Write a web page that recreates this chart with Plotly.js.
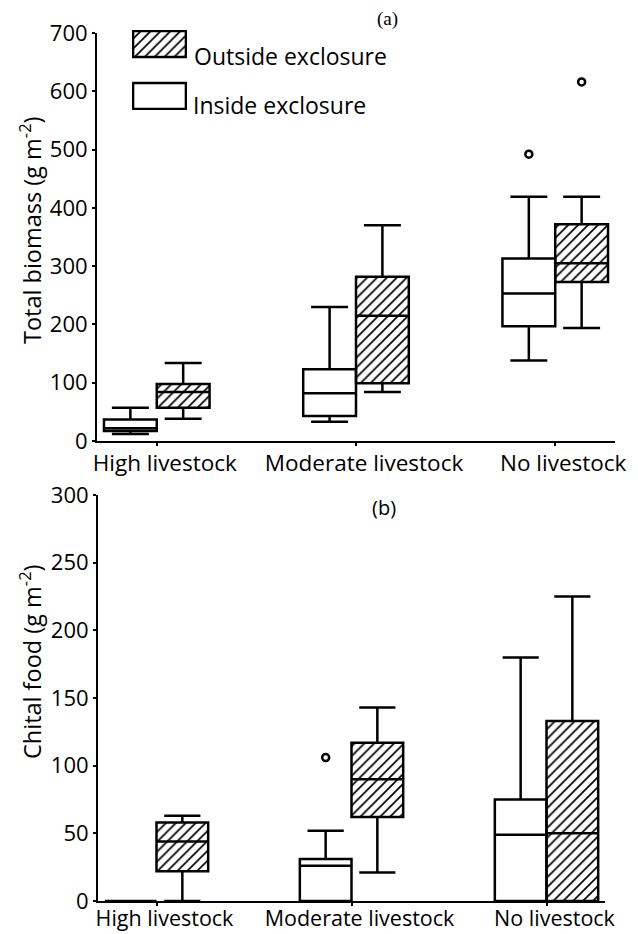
<!DOCTYPE html>
<html>
<head>
<meta charset="utf-8">
<script src="https://cdn.plot.ly/plotly-3.0.1.min.js"></script>
<style>html,body{margin:0;padding:0;background:#fff}#chart{width:638px;height:934px}</style>
</head>
<body>
<div id="chart"></div>
<script>
// ---- data ----
const categories = ['High livestock', 'Moderate livestock', 'No livestock'];
const catPos = [1, 2, 3];

// (a) Total biomass (g m-2)
const aInLower = [12, 33, 138];
const aInQ1 = [17, 43, 197];
const aInMedian = [22, 82, 253];
const aInQ3 = [37, 123, 313];
const aInUpper = [57, 230, 419];
const aOutLower = [38, 84, 194];
const aOutQ1 = [57, 99, 273];
const aOutMedian = [84, 215, 305];
const aOutQ3 = [98, 282, 372];
const aOutUpper = [134, 370, 419];
const aInOutlierCat = [3];
const aInOutlierVal = [492];
const aOutOutlierCat = [3];
const aOutOutlierVal = [616];

// (b) Chital food (g m-2)
const bInLower = [0, 0, 0];
const bInQ1 = [0, 0, 0];
const bInMedian = [0, 26, 49];
const bInQ3 = [0, 31, 75];
const bInUpper = [0, 52, 180];
const bOutLower = [0, 21, 0];
const bOutQ1 = [22, 62, 0];
const bOutMedian = [44, 90, 50];
const bOutQ3 = [58, 117, 133];
const bOutUpper = [63, 143, 225];
const bInOutlierCat = [2];
const bInOutlierVal = [106];

const yTicksA = [0, 100, 200, 300, 400, 500, 600, 700];
const yTicksB = [0, 50, 100, 150, 200, 250, 300];

// ---- styling ----
const W = 638, H = 934;
const FONT = 'Open Sans, sans-serif';
const BW = 0.265, OFF = 0.1325;
const inX = catPos.map(p => p - OFF);
const outX = catPos.map(p => p + OFF);
const pattern = {shape: '/', fgcolor: '#000', bgcolor: '#fff', size: 7, solidity: 0.24, fillmode: 'replace'};

function boxTrace(x, lo, q1, med, q3, up, xa, ya) {
  return {type: 'box', x: x, lowerfence: lo, q1: q1, median: med, q3: q3, upperfence: up,
    width: BW, whiskerwidth: 0.7, boxpoints: false, fillcolor: 'rgba(0,0,0,0)',
    line: {color: '#000', width: 2.5}, xaxis: xa, yaxis: ya, hoverinfo: 'skip', showlegend: false};
}
function hatchTrace(x, q1, q3, xa, ya) {
  return {type: 'bar', x: x, base: q1, y: q3.map((v, i) => v - q1[i]), width: BW,
    marker: {color: '#fff', pattern: pattern, line: {width: 0}},
    xaxis: xa, yaxis: ya, hoverinfo: 'skip', showlegend: false};
}
function outlierTrace(cats, vals, off, xa, ya) {
  return {type: 'scatter', mode: 'markers', x: cats.map(c => c + off), y: vals,
    marker: {symbol: 'circle-open', size: 7, color: '#000', line: {width: 2.5, color: '#000'}},
    xaxis: xa, yaxis: ya, hoverinfo: 'skip', showlegend: false, cliponaxis: false};
}

const data = [
  hatchTrace(outX, aOutQ1, aOutQ3, 'x', 'y'),
  boxTrace(inX, aInLower, aInQ1, aInMedian, aInQ3, aInUpper, 'x', 'y'),
  boxTrace(outX, aOutLower, aOutQ1, aOutMedian, aOutQ3, aOutUpper, 'x', 'y'),
  outlierTrace(aInOutlierCat, aInOutlierVal, -OFF, 'x', 'y'),
  outlierTrace(aOutOutlierCat, aOutOutlierVal, OFF, 'x', 'y'),
  hatchTrace(outX, bOutQ1, bOutQ3, 'x2', 'y2'),
  boxTrace(inX, bInLower, bInQ1, bInMedian, bInQ3, bInUpper, 'x2', 'y2'),
  boxTrace(outX, bOutLower, bOutQ1, bOutMedian, bOutQ3, bOutUpper, 'x2', 'y2'),
  outlierTrace(bInOutlierCat, bInOutlierVal, -OFF, 'x2', 'y2'),
  // legend swatches
  {type: 'bar', orientation: 'h', y: [2.5], x: [1], base: [0], width: [1],
   marker: {color: '#fff', pattern: pattern, line: {width: 2.5, color: '#000'}},
   xaxis: 'x3', yaxis: 'y3', hoverinfo: 'skip', showlegend: false},
  {type: 'bar', orientation: 'h', y: [0.5], x: [1], base: [0], width: [1],
   marker: {color: '#fff', line: {width: 2.5, color: '#000'}},
   xaxis: 'x3', yaxis: 'y3', hoverinfo: 'skip', showlegend: false}
];

const px = v => v / W, py = v => 1 - v / H;
const xAxisBase = {range: [0.7, 3.3], tickvals: catPos, ticktext: categories, showline: true,
  linecolor: '#000', linewidth: 2, ticks: 'outside', ticklen: 3, tickwidth: 2, tickcolor: '#000',
  showgrid: false, zeroline: false, ticklabelshift: 8, tickfont: {family: FONT, size: 22.5, color: '#000'}};
const yAxisBase = {showline: true, linecolor: '#000', linewidth: 2, ticks: 'outside', ticklen: 3,
  tickwidth: 2, tickcolor: '#000', showgrid: false, zeroline: false,
  tickfont: {family: FONT, size: 22, color: '#000'}};

const layout = {
  width: W, height: H, margin: {l: 0, r: 0, t: 0, b: 0}, paper_bgcolor: '#fff', plot_bgcolor: 'rgba(0,0,0,0)',
  barmode: 'overlay', showlegend: false,
  xaxis: Object.assign({}, xAxisBase, {domain: [px(97), px(615)], anchor: 'y', ticklabelstandoff: -2}),
  yaxis: Object.assign({}, yAxisBase, {domain: [py(441), py(33)], range: [0, 700], tickvals: yTicksA, anchor: 'x'}),
  xaxis2: Object.assign({}, xAxisBase, {domain: [px(98), px(605)], anchor: 'y2', ticklabelstandoff: -6,
    tickfont: {family: FONT, size: 21.5, color: '#000'}}),
  yaxis2: Object.assign({}, yAxisBase, {domain: [py(901), py(495)], range: [0, 300], tickvals: yTicksB, anchor: 'x2'}),
  xaxis3: {domain: [px(132), px(187)], range: [-0.02, 1.02], visible: false, fixedrange: true, anchor: 'y3'},
  yaxis3: {domain: [py(110), py(30)], range: [-0.04, 3.04], visible: false, fixedrange: true, anchor: 'x3'},
  annotations: [
    {text: 'Total biomass (g m<sup>-2</sup>)', xref: 'paper', yref: 'paper', x: px(31), y: py(230),
     textangle: -90, xanchor: 'center', yanchor: 'middle', showarrow: false,
     font: {family: FONT, size: 23.5, color: '#000'}},
    {text: 'Chital food (g m<sup>-2</sup>)', xref: 'paper', yref: 'paper', x: px(30), y: py(662),
     textangle: -90, xanchor: 'center', yanchor: 'middle', showarrow: false,
     font: {family: FONT, size: 23.5, color: '#000'}},
    {text: '(a)', xref: 'paper', yref: 'paper', x: px(387), y: py(19), yanchor: 'middle', showarrow: false,
     font: {family: 'Liberation Serif, serif', size: 19, color: '#000'}},
    {text: '(b)', xref: 'paper', yref: 'paper', x: px(384), y: py(507), yanchor: 'middle', showarrow: false,
     font: {family: FONT, size: 20, color: '#000'}},
    {text: 'Outside exclosure', xref: 'paper', yref: 'paper', x: px(192), y: py(56), xanchor: 'left', yanchor: 'middle', showarrow: false,
     font: {family: FONT, size: 23, color: '#000'}},
    {text: 'Inside exclosure', xref: 'paper', yref: 'paper', x: px(191), y: py(105), xanchor: 'left', yanchor: 'middle', showarrow: false,
     font: {family: FONT, size: 23, color: '#000'}}
  ]
};

Plotly.newPlot('chart', data, layout, {staticPlot: true, displayModeBar: false});
</script>
</body>
</html>
